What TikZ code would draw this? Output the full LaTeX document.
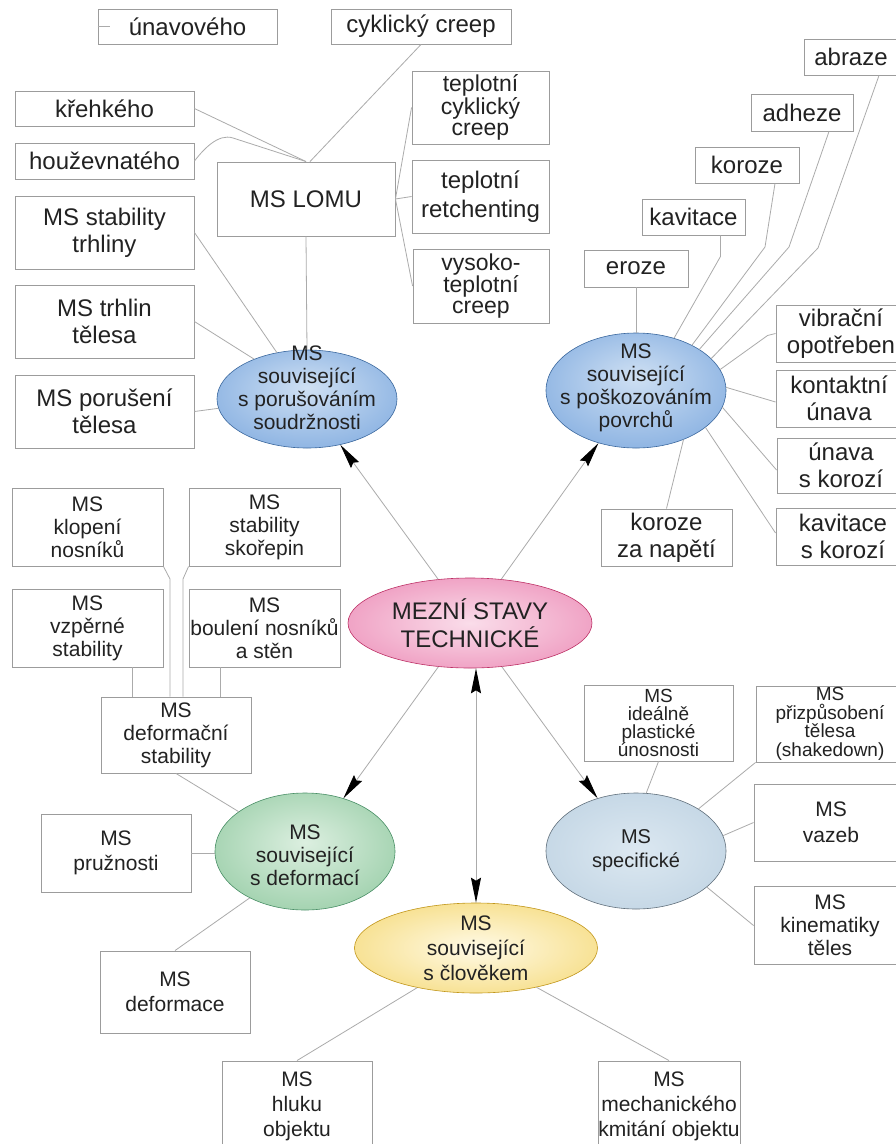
\documentclass[tikz,border=0pt]{standalone}
\usepackage{fontspec}
\setmainfont{Liberation Sans}
\usetikzlibrary{shapes.geometric,arrows.meta}
\definecolor{boxline}{HTML}{9C9C9C}
\definecolor{connline}{HTML}{ABABAB}
\definecolor{txt}{HTML}{222222}
\definecolor{bIn}{HTML}{CFE0F3}\definecolor{bMid}{HTML}{8FB5E3}\definecolor{bOut}{HTML}{4A82C6}
\definecolor{pIn}{HTML}{FADDEA}\definecolor{pMid}{HTML}{EE98BE}\definecolor{pOut}{HTML}{DE3A78}
\definecolor{gIn}{HTML}{DCEFE0}\definecolor{gMid}{HTML}{A2D2AF}\definecolor{gOut}{HTML}{56A878}
\definecolor{yIn}{HTML}{FFFAE6}\definecolor{yMid}{HTML}{F6DD85}\definecolor{yOut}{HTML}{E3B01E}
\definecolor{sIn}{HTML}{DCE8F1}\definecolor{sMid}{HTML}{C2D5E4}\definecolor{sOut}{HTML}{A2BACE}
\pgfdeclareradialshading{blueshade}{\pgfpoint{0bp}{6bp}}{color(0bp)=(bIn); color(28bp)=(bMid); color(50bp)=(bOut)}
\pgfdeclareradialshading{pinkshade}{\pgfpoint{0bp}{0bp}}{color(0bp)=(pIn); color(30bp)=(pMid); color(50bp)=(pOut)}
\pgfdeclareradialshading{greenshade}{\pgfpoint{0bp}{4bp}}{color(0bp)=(gIn); color(28bp)=(gMid); color(50bp)=(gOut)}
\pgfdeclareradialshading{yellowshade}{\pgfpoint{0bp}{0bp}}{color(0bp)=(yIn); color(30bp)=(yMid); color(50bp)=(yOut)}
\pgfdeclareradialshading{specshade}{\pgfpoint{0bp}{0bp}}{color(0bp)=(sIn); color(30bp)=(sMid); color(50bp)=(sOut)}
\newcommand\myBig{\fontsize{24}{27}\selectfont}
\newcommand\mySm{\fontsize{21}{23}\selectfont}
\begin{document}
\begin{tikzpicture}[x=1pt,y=-1pt,
  box/.style={draw=boxline, line width=0.9pt, inner sep=0pt, align=center, text=txt},
  big/.style={font=\myBig},
  sm/.style={font=\mySm},
  conn/.style={draw=connline, line width=0.8pt},
  ell/.style={ellipse, inner sep=0pt, line width=0.6pt, shade},
  lbl/.style={inner sep=0pt, align=center, text=txt},
  tipk/.tip={Stealth[length=25pt,width=10pt,inset=3pt,color=black]},
  arr/.style={-tipk},
  arrboth/.style={tipk-tipk}
]
\useasboundingbox (0,0) rectangle (896,1144);
\clip (0,0) rectangle (896,1144);
\fill[white] (0,0) rectangle (896,1144);

% ---- top left: fracture
\node[box,big,minimum width=179,minimum height=35] (unav) at (187.5,26.5) {únavového};
\node[box,big,minimum width=180,minimum height=35] (cykl) at (421,26.5) {cyklický creep};
\node[box,big,minimum width=179,minimum height=35] (kreh) at (104.5,108.5) {křehkého};
\node[box,big,minimum width=179,minimum height=36] (houz) at (104.5,161) {houževnatého};
\node[box,big,minimum width=178,minimum height=74] (lomu) at (306,199) {MS LOMU};
\node[box,big,minimum width=179,minimum height=73] (stabtr) at (104.5,232.5) {MS stability\\trhliny};
\node[box,big,minimum width=179,minimum height=73] (trhl) at (104.5,321.5) {MS trhlin\\tělesa};
\node[box,big,minimum width=179,minimum height=73] (poru) at (104.5,411.5) {MS porušení\\tělesa};
\node[box,font=\fontsize{23}{21}\selectfont,minimum width=137,minimum height=73] (tcc) at (480.5,107.5) {teplotní\\cyklický\\creep};
\node[box,font=\fontsize{24}{29}\selectfont,minimum width=137,minimum height=73] (tret) at (480.5,196.5) {teplotní\\retchenting};
\node[box,font=\fontsize{23}{21}\selectfont,minimum width=136,minimum height=74] (vtc) at (481,286) {vysoko-\\teplotní\\creep};

% ---- top right: surface
\node[box,big,minimum width=94,minimum height=36] (abra) at (851,57) {abraze};
\node[box,big,minimum width=102,minimum height=37] (adhe) at (802,112.5) {adheze};
\node[box,big,minimum width=104,minimum height=36] (koro) at (747,165) {koroze};
\node[box,big,minimum width=103,minimum height=36] (kavi) at (693.5,217) {kavitace};
\node[box,big,minimum width=104,minimum height=37] (eroz) at (636,268.5) {eroze};
\node[box,big,minimum width=130,minimum height=57] (vibr) at (841,333.5) {vibrační\\opotřeben};
\node[box,big,minimum width=126,minimum height=57] (kont) at (839,398.5) {kontaktní\\únava};
\node[box,big,minimum width=128,minimum height=55] (unko) at (841,465.5) {únava\\s korozí};
\node[box,big,minimum width=134,minimum height=57] (kako) at (843,536.5) {kavitace\\s korozí};
\node[box,big,minimum width=131,minimum height=57] (kozn) at (666.5,537.5) {koroze\\za napětí};

% ---- left middle: deformation
\node[box,sm,minimum width=151,minimum height=78] (klop) at (87.5,527) {MS\\klopení\\nosníků};
\node[box,sm,minimum width=151,minimum height=78] (skor) at (264.5,527) {MS\\stability\\skořepin};
\node[box,sm,minimum width=151,minimum height=78] (vzpe) at (87.5,628) {MS\\vzpěrné\\stability};
\node[box,sm,minimum width=151,minimum height=78] (boul) at (264.5,628) {MS\\boulení nosníků\\a stěn};
\node[box,sm,minimum width=150,minimum height=76] (defs) at (176,735) {MS\\deformační\\stability};
\node[box,font=\fontsize{21}{25}\selectfont,minimum width=150,minimum height=78] (pruz) at (116,853) {MS\\pružnosti};
\node[box,font=\fontsize{21}{25}\selectfont,minimum width=150,minimum height=82] (defo) at (175,992) {MS\\deformace};

% ---- right lower: specific
\node[box,font=\fontsize{19}{18}\selectfont,minimum width=149,minimum height=76] (idea) at (658.5,723) {MS\\ideálně\\plastické\\únosnosti};
\node[box,font=\fontsize{19}{18.5}\selectfont,minimum width=148,minimum height=76] (shak) at (830,724) {MS\\přizpůsobení\\tělesa\\(shakedown)};
\node[box,font=\fontsize{21}{26}\selectfont,minimum width=154,minimum height=77] (vaze) at (831,822.5) {MS\\vazeb};
\node[box,sm,minimum width=152,minimum height=78] (kine) at (830,925.5) {MS\\kinematiky\\těles};

% ---- bottom: human
\node[box,font=\fontsize{21}{25}\selectfont,minimum width=150,minimum height=90] (hluk) at (297,1106) {MS\\hluku\\objektu};
\node[box,font=\fontsize{21}{25}\selectfont,minimum width=142,minimum height=90] (mech) at (669,1106) {MS\\mechanického\\kmitání objektu};

% ---- ellipses
\node[ell, shading=blueshade, draw=bOut!80!black, minimum width=180, minimum height=98,
  label={[lbl,font=\mySm,yshift=11pt]center:{MS\\související\\s porušováním\\soudržnosti}}] (e1) at (307,399) {};
\node[ell, shading=blueshade, draw=bOut!80!black, minimum width=180, minimum height=115,
  label={[lbl,font=\mySm,yshift=3pt]center:{MS\\související\\s poškozováním\\povrchů}}] (e2) at (636,390.5) {};
\node[ell, shading=pinkshade, draw=pOut!85!black, minimum width=244, minimum height=90,
  label={[lbl,font=\fontsize{24}{28}\selectfont]center:{MEZNÍ STAVY\\TECHNICKÉ}}] (ce) at (470,623) {};
\node[ell, shading=greenshade, draw=gOut!85!black, minimum width=180, minimum height=117,
  label={[lbl,font=\mySm,yshift=-4pt]center:{MS\\související\\s deformací}}] (eg) at (305,851.5) {};
\node[ell, shading=specshade, draw=sOut!60!black, minimum width=180, minimum height=116,
  label={[lbl,font=\fontsize{20}{24}\selectfont]center:{MS\\specifické}}] (es) at (636,851) {};
\node[ell, shading=yellowshade, draw=yOut!85!black, minimum width=243, minimum height=90,
  label={[lbl,font=\fontsize{21}{25}\selectfont]center:{MS\\související\\s člověkem}}] (ye) at (476,948) {};

% ---- connectors: fracture
\draw[conn] (unav.west) -- ++(12,0);
\draw[conn] (kreh.east) -- (lomu.north);
\draw[conn] (houz.east) .. controls (203,150) and (218,133) .. (233,138) -- (lomu.north);
\draw[conn] (cykl.south) -- ([xshift=4pt]lomu.north);
\draw[conn] (lomu.east) -- (tcc.west);
\draw[conn] (lomu.east) -- (tret.west);
\draw[conn] (lomu.east) -- (vtc.west);
\draw[conn] (lomu.south) -- (e1.north);
\draw[conn] (stabtr.east) -- (e1.123);
\draw[conn] (trhl.east) -- (e1.143);
\draw[conn] (poru.east) -- (e1.186);

% ---- connectors: surface
\draw[conn] (eroz.south) -- (e2.north);
\coordinate (kv) at ([xshift=27pt]kavi.south);
\draw[conn] (kv) -- ++(0,21) -- (e2.54);
\coordinate (ko) at ([xshift=28pt]koro.south);
\draw[conn] (ko) -- (765,247) -- (e2.39);
\coordinate (ad) at ([xshift=27pt]adhe.south);
\draw[conn] (ad) -- (789,247) -- (e2.33);
\coordinate (ab) at ([xshift=28pt]abra.south);
\draw[conn] (ab) -- (818,248) -- (e2.23);
\draw[conn] (vibr.west) -- ++(-8,2) -- (e2.14);
\draw[conn] ([yshift=-3.5pt]kont.west) -- (e2.2);
\draw[conn] ([yshift=-4.5pt]unko.west) -- (e2.-11);
\draw[conn] ([yshift=3.5pt]kako.west) -- (e2.-28);
\draw[conn] (kozn.north) -- (e2.-46);

% ---- connectors: deformation
\coordinate (c1) at ([xshift=-44pt]defs.north);
\draw[conn] (c1) -- (c1 |- vzpe.south);
\coordinate (c2) at ([xshift=44pt]defs.north);
\draw[conn] (c2) -- (c2 |- boul.south);
\coordinate (c3) at ([xshift=-6pt]defs.north);
\draw[conn] (klop.south east) -- (170,579) -- (c3);
\coordinate (c4) at ([xshift=7pt]defs.north);
\draw[conn] (skor.south west) -- (183,579) -- (c4);
\draw[conn] (defs.south) -- (eg.149);
\draw[conn] (pruz.east) -- (pruz.east -| eg.west);
\draw[conn] (eg.220) -- (defo.north);

% ---- connectors: specific
\draw[conn] (idea.south) -- (es.80);
\draw[conn] (shak.south west) -- (es.34);
\draw[conn] (vaze.west) -- (es.10);
\draw[conn] (kine.west) -- (es.-27);

% ---- connectors: human
\draw[conn] (ye.214) -- (hluk.north);
\draw[conn] (ye.-33) -- (mech.north);

% ---- main arrows
\draw[conn,arr] (ce) -- (e1);
\draw[conn,arr] (ce) -- (e2);
\draw[conn,arr] (ce) -- (eg);
\draw[conn,arr] (ce) -- (es);
\coordinate (vt) at (ye.north |- ce.south);
\draw[conn,arrboth] (vt) -- (ye.north);
\end{tikzpicture}
\end{document}
